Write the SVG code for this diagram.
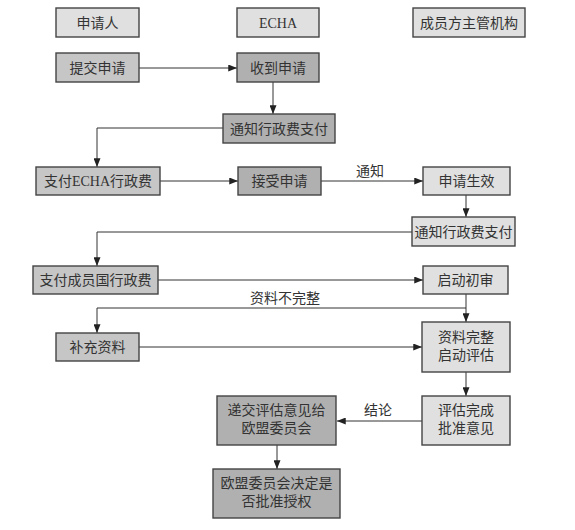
<svg xmlns="http://www.w3.org/2000/svg" width="575" height="530" viewBox="0 0 575 530">
<style>
.l{fill:#e0e0e0;stroke:#444;stroke-width:1.4}
.m{fill:#c6c6c6;stroke:#444;stroke-width:1.4}
.d{fill:#b0b0b0;stroke:#444;stroke-width:1.4}
text{font-family:"Liberation Serif","Noto Sans CJK SC",serif;font-size:14px;fill:#333;text-anchor:middle}
.c path{fill:none;stroke:#333;stroke-width:1}
</style>
<defs>
<marker id="a" viewBox="0 0 10 8" refX="10" refY="4" markerWidth="9" markerHeight="7" markerUnits="userSpaceOnUse" orient="auto"><path d="M0,0L10,4L0,8z" fill="#222"/></marker>
</defs>
<rect width="575" height="530" fill="#fff"/>
<g class="c">
<path d="M139,68H237" marker-end="url(#a)"/>
<path d="M273,82V114" marker-end="url(#a)"/>
<path d="M223,128H97V167" marker-end="url(#a)"/>
<path d="M160,181H238" marker-end="url(#a)"/>
<path d="M321,181H423" marker-end="url(#a)"/>
<path d="M466,195V217" marker-end="url(#a)"/>
<path d="M412,232H97V266" marker-end="url(#a)"/>
<path d="M158,280H423" marker-end="url(#a)"/>
<path d="M466,294V322" marker-end="url(#a)"/>
<path d="M466,308H97V333" marker-end="url(#a)"/>
<path d="M139,347H422" marker-end="url(#a)"/>
<path d="M466,372V396" marker-end="url(#a)"/>
<path d="M422,421H337" marker-end="url(#a)"/>
<path d="M277,445V469" marker-end="url(#a)"/>
<text x="370" y="176">通知</text>
<text x="285" y="303">资料不完整</text>
<text x="378" y="415">结论</text>
</g>
<g id="h1"><rect class="l" x="56" y="8" width="83" height="29"/><text x="97.5" y="27.5">申请人</text></g>
<g id="h2"><rect class="l" x="237" y="8" width="82" height="29"/><text x="278" y="27.5">ECHA</text></g>
<g id="h3"><rect class="l" x="413" y="8" width="112" height="29"/><text x="469" y="27.5">成员方主管机构</text></g>
<g id="n1"><rect class="m" x="56" y="53" width="83" height="29"/><text x="97.5" y="72.5">提交申请</text></g>
<g id="n2"><rect class="d" x="237" y="53" width="82" height="29"/><text x="278" y="72.5">收到申请</text></g>
<g id="n3"><rect class="d" x="223" y="114" width="112" height="29"/><text x="279" y="133.5">通知行政费支付</text></g>
<g id="n4"><rect class="m" x="36" y="167" width="124" height="28"/><text x="98" y="186">支付ECHA行政费</text></g>
<g id="n5"><rect class="d" x="238" y="167" width="83" height="28"/><text x="279.5" y="186">接受申请</text></g>
<g id="n6"><rect class="l" x="423" y="167" width="87" height="28"/><text x="466.5" y="186">申请生效</text></g>
<g id="n7"><rect class="l" x="412" y="217" width="103" height="29"/><text x="463.5" y="236.5">通知行政费支付</text></g>
<g id="n8"><rect class="m" x="33" y="266" width="125" height="28"/><text x="95.5" y="285">支付成员国行政费</text></g>
<g id="n9"><rect class="l" x="423" y="266" width="85" height="28"/><text x="465.5" y="285">启动初审</text></g>
<g id="n10"><rect class="m" x="56" y="333" width="83" height="28"/><text x="97.5" y="352">补充资料</text></g>
<g id="n11"><rect class="l" x="422" y="322" width="88" height="50"/><text x="466" y="342">资料完整</text><text x="466" y="360">启动评估</text></g>
<g id="n12"><rect class="l" x="422" y="396" width="88" height="49"/><text x="466" y="415">评估完成</text><text x="466" y="433">批准意见</text></g>
<g id="n13"><rect class="d" x="217" y="396" width="119" height="49"/><text x="276.5" y="415">递交评估意见给</text><text x="276.5" y="433">欧盟委员会</text></g>
<g id="n14"><rect class="d" x="213" y="469" width="127" height="49"/><text x="276.5" y="488">欧盟委员会决定是</text><text x="276.5" y="506">否批准授权</text></g>
</svg>
